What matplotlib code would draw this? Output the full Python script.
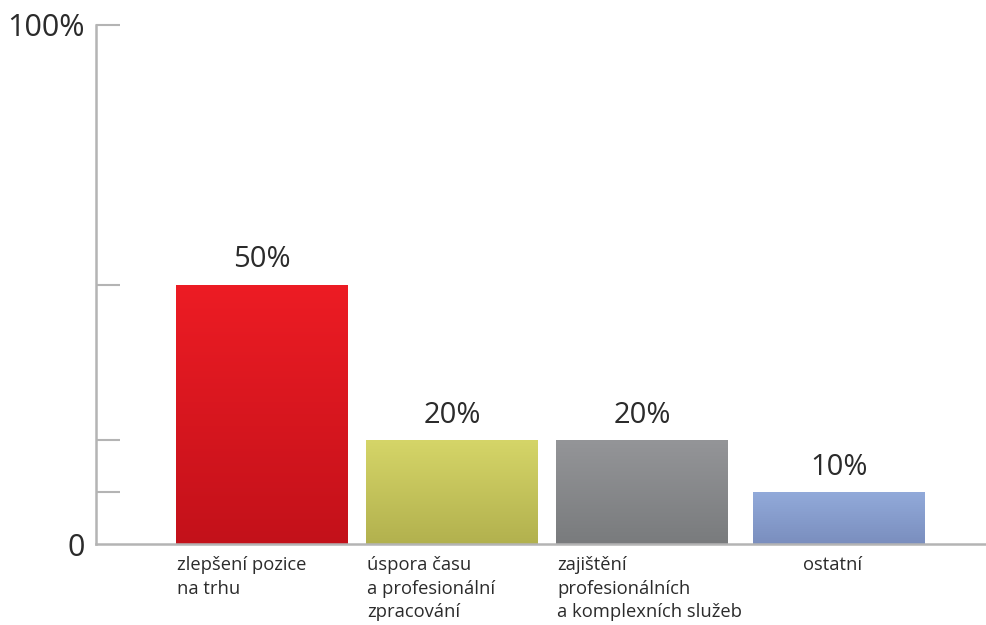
import numpy as np
import matplotlib
matplotlib.use("Agg")
import matplotlib.pyplot as plt
from matplotlib.colors import LinearSegmentedColormap

categories = [
    "zlepšení pozice\nna trhu",
    "úspora času\na profesionální\nzpracování",
    "zajištění\nprofesionálních\na komplexních služeb",
    "ostatní",
]
values = [50, 20, 20, 10]
value_labels = ["50%", "20%", "20%", "10%"]
top_colors = ["#ED1C24", "#D5D568", "#949598", "#92AADA"]
bottom_colors = ["#C3111A", "#B2B14E", "#797B7D", "#7A8EBE"]
label_align = ["left", "left", "left", "center"]

plt.rcParams["font.family"] = ["Open Sans", "DejaVu Sans"]
text_color = "#2b2b2b"
axis_color = "#b4b4b4"

fig = plt.figure(figsize=(9.86, 6.25), dpi=100)
ax = fig.add_axes([96 / 986, 1 - 544 / 625, 1 - 96 / 986, (544 - 25) / 625])

width = 0.905
x = np.arange(len(values)) + np.array([0, 0, 0, 0.035])
bars = ax.bar(x, values, width=width, color="none", edgecolor="none", zorder=2)

# vertical gradient fill clipped to each bar
grad = np.linspace(0, 1, 256).reshape(-1, 1)
for bar, c_top, c_bot in zip(bars, top_colors, bottom_colors):
    cmap = LinearSegmentedColormap.from_list("g", [c_bot, c_top])
    bx, by = bar.get_x(), bar.get_y()
    bw, bh = bar.get_width(), bar.get_height()
    im = ax.imshow(grad, cmap=cmap, aspect="auto", origin="lower",
                   extent=(bx, bx + bw, by, by + bh), zorder=2)
    im.set_clip_path(bar)

for xi, v, lab in zip(x, values, value_labels):
    ax.text(xi, v + 2.0, lab, ha="center", va="bottom",
            fontsize=21, color=text_color)

for xi, cat, al in zip(x, categories, label_align):
    xpos = xi - width / 2 + 0.005 if al == "left" else xi - 0.03
    ax.text(xpos, -2.4, cat, ha=al, va="top", fontsize=13.2,
            color=text_color, linespacing=1.38)

ax.set_xlim(-0.874, 3.81)
ax.set_ylim(0, 100)

for s in ["top", "right"]:
    ax.spines[s].set_visible(False)
for s in ["left", "bottom"]:
    ax.spines[s].set_color(axis_color)
    ax.spines[s].set_linewidth(1.8)

ax.set_xticks([])
ax.set_yticks([0, 10, 20, 50, 100])
ax.set_yticklabels(["0", "", "", "", "100%"])
ax.tick_params(axis="y", direction="in", length=17, width=1.5,
               color=axis_color, labelsize=22, labelcolor=text_color, pad=8)
ax.yaxis.get_major_ticks()[0].tick1line.set_visible(False)

fig.savefig("out.png", dpi=100, facecolor="white")
